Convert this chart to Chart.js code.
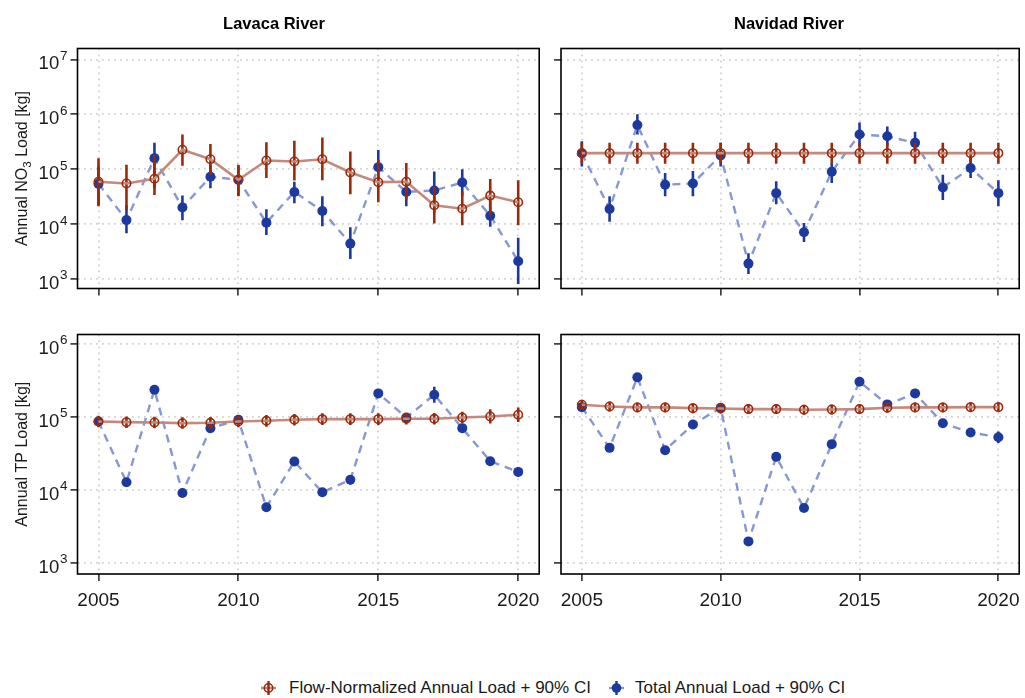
<!DOCTYPE html>
<html>
<head>
<meta charset="utf-8">
<script src="https://cdn.jsdelivr.net/npm/chart.js@4.4.1/dist/chart.umd.min.js"></script>
<style>
  body { margin: 0; background: #fff; width: 1025px; height: 698px; overflow: hidden; position: relative;
         font-family: "Liberation Sans", Arial, sans-serif; color: #1a1a1a; }
  canvas { position: absolute; }
  .leg { position: absolute; top: 678px; font-size: 17px; line-height: 20px; white-space: nowrap; }
  svg { position: absolute; }
</style>
</head>
<body>
<canvas id="lavacaNO3" width="545" height="300" style="left:0;top:0"></canvas>
<canvas id="navidadNO3" width="480" height="300" style="left:545px;top:0"></canvas>
<canvas id="lavacaTP" width="545" height="330" style="left:0;top:300px"></canvas>
<canvas id="navidadTP" width="480" height="330" style="left:545px;top:300px"></canvas>

<svg style="left:258px;top:679px" width="21" height="18">
  <line x1="3" y1="9" x2="18" y2="9" stroke="#c4897d" stroke-width="2.4"/>
  <line x1="10.5" y1="2" x2="10.5" y2="16" stroke="#9b2a0b" stroke-width="2.4"/>
  <circle cx="10.5" cy="9" r="4.2" fill="none" stroke="#9b2a0b" stroke-width="1.6"/>
</svg>
<span class="leg" style="left:289px">Flow-Normalized Annual Load + 90% CI</span>
<svg style="left:606px;top:679px" width="21" height="18">
  <line x1="3" y1="9" x2="18" y2="9" stroke="#8797d3" stroke-width="2.4"/>
  <line x1="10.5" y1="2" x2="10.5" y2="16" stroke="#1c3a9e" stroke-width="2.4"/>
  <circle cx="10.5" cy="9" r="4.8" fill="#1c3a9e"/>
</svg>
<span class="leg" style="left:635px">Total Annual Load + 90% CI</span>

<script>
const years = [2005, 2006, 2007, 2008, 2009, 2010, 2011, 2012, 2013, 2014, 2015, 2016, 2017, 2018, 2019, 2020];
const xTicks = [2005, 2010, 2015, 2020];
const no3Ticks = [1e3, 1e4, 1e5, 1e6, 1e7];
const tpTicks = [1e3, 1e4, 1e5, 1e6];

// Lavaca River, NO3 (kg)
const lavacaNO3Fn   = [59000, 55000, 67000, 226000, 152000, 64000, 144000, 138000, 152000, 87000, 58000, 59000, 22000, 19000, 33000, 25000];
const lavacaNO3FnLo = [21000, 18000, 34000, 115000, 79000, 32000, 69000, 62000, 63000, 35000, 25000, 28000, 10200, 9500, 14500, 9500];
const lavacaNO3FnHi = [158000, 120000, 182000, 427000, 288000, 120000, 309000, 331000, 380000, 209000, 148000, 129000, 48000, 39000, 66000, 63000];
const lavacaNO3Tot   = [54000, 11800, 159000, 20000, 73000, 64000, 10600, 38500, 17300, 4400, 109000, 38500, 41000, 57000, 14200, 2100];
const lavacaNO3TotLo = [22000, 6800, 45000, 11700, 45000, 33000, 6300, 24000, 9100, 2300, 55000, 21000, 16000, 32000, 8900, 810];
const lavacaNO3TotHi = [112000, 22000, 302000, 33000, 120000, 115000, 18600, 59000, 32000, 8700, 224000, 59000, 91000, 100000, 26000, 5600];

// Navidad River, NO3 (kg)
const navidadNO3Fn   = [196000, 196000, 196000, 196000, 196000, 196000, 196000, 196000, 196000, 196000, 196000, 196000, 196000, 196000, 196000, 196000];
const navidadNO3FnLo = [126000, 126000, 126000, 126000, 126000, 126000, 126000, 126000, 126000, 126000, 126000, 126000, 126000, 126000, 126000, 126000];
const navidadNO3FnHi = [302000, 302000, 302000, 302000, 302000, 302000, 302000, 302000, 302000, 302000, 302000, 302000, 302000, 302000, 302000, 302000];
const navidadNO3Tot   = [195000, 18800, 640000, 52000, 55000, 178000, 1900, 36600, 7100, 90000, 430000, 398000, 302000, 46500, 105000, 36600];
const navidadNO3TotLo = [112000, 11000, 427000, 32000, 32000, 112000, 1230, 23000, 4700, 56000, 263000, 263000, 186000, 27500, 69000, 21000];
const navidadNO3TotHi = [324000, 32000, 1000000, 85000, 93000, 302000, 2950, 60000, 10500, 129000, 708000, 603000, 479000, 79000, 162000, 63000];

// Lavaca River, TP (kg)
const lavacaTPFn   = [86500, 84700, 83900, 82000, 83000, 86500, 88300, 91200, 93100, 93100, 93100, 94200, 94200, 98200, 101400, 106900];
const lavacaTPFnLo = [72000, 70500, 70000, 68500, 69000, 72000, 73500, 76000, 77500, 77500, 77500, 78500, 78500, 81500, 81000, 85000];
const lavacaTPFnHi = [104000, 101500, 100500, 98500, 99500, 104000, 106000, 109500, 112000, 112000, 112000, 113000, 113000, 118000, 127000, 134500];
const lavacaTPTot   = [86500, 12700, 235500, 9060, 70100, 91200, 5750, 24400, 9250, 13700, 209900, 98200, 201400, 70100, 24700, 17600];
const lavacaTPTotLo = [77000, 11300, 210000, 8100, 62500, 81500, 5150, 21800, 8250, 11800, 187000, 87500, 156000, 60000, 22000, 15200];
const lavacaTPTotHi = [97000, 14200, 264000, 10100, 78500, 102000, 6450, 27300, 10400, 15900, 235000, 110000, 260000, 80000, 27700, 20300];

// Navidad River, TP (kg)
const navidadTPFn   = [146600, 139000, 134900, 134900, 131800, 130600, 127900, 127900, 125300, 126500, 127900, 133400, 134900, 134900, 136100, 136100];
const navidadTPFnLo = [125000, 119000, 115500, 115500, 112500, 111500, 109500, 109500, 107000, 108000, 109500, 114000, 115500, 115500, 116500, 116500];
const navidadTPFnHi = [171500, 162500, 158000, 158000, 154000, 153000, 149500, 149500, 146500, 148000, 149500, 156000, 158000, 158000, 159000, 159000];
const navidadTPTot   = [136100, 37600, 348300, 34900, 78700, 133400, 1960, 28300, 5620, 42300, 303400, 148300, 209900, 82000, 61100, 52700];
const navidadTPTotLo = [123500, 34200, 316500, 31700, 71500, 121000, 1780, 25700, 5100, 38400, 276000, 134500, 190500, 74500, 55500, 44000];
const navidadTPTotHi = [150000, 41400, 383000, 38400, 86500, 147000, 2160, 31100, 6200, 46500, 334000, 163000, 231000, 90000, 67000, 63000];

const FN_LINE = '#c4897d', FN_DARK = '#9b2a0b';
const TOT_LINE = '#8797d3', TOT_DARK = '#1c3a9e';
const FONT = '"Liberation Sans", Arial, sans-serif';

// vertical 90% CI bars, drawn under each dataset's own points
const errorBars = {
  id: 'errorBars',
  beforeDatasetDraw(chart, args) {
    const ds = chart.data.datasets[args.index];
    if (!ds.lower) return;
    const yScale = chart.scales.y;
    const ctx = chart.ctx;
    const a = chart.chartArea;
    ctx.save();
    ctx.beginPath();
    ctx.rect(a.left, a.top, a.right - a.left, a.bottom - a.top);
    ctx.clip();
    ctx.strokeStyle = ds.barColor;
    ctx.lineWidth = 2.6;
    args.meta.data.forEach((pt, i) => {
      ctx.beginPath();
      ctx.moveTo(pt.x, yScale.getPixelForValue(ds.lower[i]));
      ctx.lineTo(pt.x, yScale.getPixelForValue(ds.upper[i]));
      ctx.stroke();
    });
    ctx.restore();
  }
};

// panel frame, facet title, 10^n labels and y title
const panelDeco = {
  id: 'panelDeco',
  afterDraw(chart, args, opts) {
    const ctx = chart.ctx, a = chart.chartArea;
    ctx.save();
    ctx.strokeStyle = '#000';
    ctx.lineWidth = 1.6;
    ctx.strokeRect(a.left, a.top, a.right - a.left, a.bottom - a.top);
    ctx.fillStyle = '#000';
    if (opts.title) {
      ctx.font = 'bold 16.5px ' + FONT;
      ctx.textAlign = 'center';
      ctx.fillText(opts.title, opts.titleX, 29);
    }
    if (opts.yLabels) {
      ctx.fillStyle = '#1a1a1a';
      const yScale = chart.scales.y;
      opts.yLabels.forEach(v => {
        const y = yScale.getPixelForValue(v);
        const e = String(Math.round(Math.log10(v)));
        ctx.font = '13.5px ' + FONT;
        const ew = ctx.measureText(e).width;
        ctx.textAlign = 'right';
        ctx.fillText(e, 67.5, y + 0.5);
        ctx.font = '18.5px ' + FONT;
        ctx.fillText('10', 67.5 - ew - 0.8, y + 10);
      });
    }
    if (opts.yTitle) {
      const parts = opts.yTitle;
      let total = 0;
      parts.forEach(p => {
        ctx.font = (p.sub ? '11.5px ' : '16px ') + FONT;
        p.w = ctx.measureText(p.t).width;
        total += p.w;
      });
      ctx.translate(26.5, (a.top + a.bottom) / 2);
      ctx.rotate(-Math.PI / 2);
      ctx.textAlign = 'left';
      let x = -total / 2;
      parts.forEach(p => {
        ctx.font = (p.sub ? '11.5px ' : '16px ') + FONT;
        ctx.fillText(p.t, x, p.sub ? 4 : 0);
        x += p.w;
      });
    }
    ctx.restore();
  }
};

function makeChart(id, opt) {
  const dash = [1.8, 4.2];
  return new Chart(document.getElementById(id), {
    type: 'line',
    data: {
      datasets: [
        {
          label: 'Flow-Normalized Annual Load + 90% CI',
          data: years.map((yr, i) => ({ x: yr, y: opt.fn[i] })),
          lower: opt.fnLo, upper: opt.fnHi, barColor: FN_DARK,
          borderColor: FN_LINE, borderWidth: 2.6,
          pointRadius: 4.2, pointBorderWidth: 1.6, pointBorderColor: FN_DARK,
          pointBackgroundColor: 'rgba(0,0,0,0)'
        },
        {
          label: 'Total Annual Load + 90% CI',
          data: years.map((yr, i) => ({ x: yr, y: opt.tot[i] })),
          lower: opt.totLo, upper: opt.totHi, barColor: TOT_DARK,
          borderColor: TOT_LINE, borderWidth: 2.4, borderDash: [8, 6],
          pointRadius: 5, pointBorderWidth: 0, pointBackgroundColor: TOT_DARK
        }
      ]
    },
    options: {
      responsive: false,
      animation: false,
      layout: { padding: { top: opt.padTop, right: opt.padRight, left: 0, bottom: 0 } },
      plugins: {
        legend: { display: false },
        tooltip: { enabled: false },
        panelDeco: { title: opt.title, titleX: opt.titleX, yLabels: opt.yLabels, yTitle: opt.yTitle }
      },
      scales: {
        x: {
          type: 'linear', min: 2004.25, max: 2020.75,
          afterBuildTicks: s => { s.ticks = xTicks.map(v => ({ value: v })); },
          afterFit: s => { s.height = opt.xHeight; s.paddingLeft = 0; s.paddingRight = 0; },
          grid: { color: '#d2d2d2', lineWidth: 1.8, borderDash: dash, tickLength: 7,
                  tickColor: '#222', tickWidth: 1.5, tickBorderDash: [] },
          border: { display: false, dash: dash },
          ticks: { display: opt.showX, color: '#1a1a1a', font: { family: FONT, size: 19 },
                   padding: 8, maxRotation: 0, autoSkip: false, callback: v => String(v) }
        },
        y: {
          type: 'logarithmic', min: opt.yMin, max: opt.yMax,
          afterBuildTicks: s => { s.ticks = opt.ticks.map(v => ({ value: v })); },
          afterFit: s => { s.width = opt.yWidth; s.paddingTop = 0; s.paddingBottom = 0; },
          grid: { color: '#d2d2d2', lineWidth: 1.8, borderDash: dash, tickLength: 7,
                  tickColor: '#222', tickWidth: 1.5, tickBorderDash: [] },
          border: { display: false, dash: dash },
          ticks: { display: false }
        }
      }
    },
    plugins: [errorBars, panelDeco]
  });
}

const no3Range = { yMin: Math.pow(10, 2.825), yMax: Math.pow(10, 7.2), ticks: no3Ticks };
const tpRange = { yMin: Math.pow(10, 2.845), yMax: Math.pow(10, 6.13), ticks: tpTicks };

makeChart('lavacaNO3', Object.assign({
  fn: lavacaNO3Fn, fnLo: lavacaNO3FnLo, fnHi: lavacaNO3FnHi,
  tot: lavacaNO3Tot, totLo: lavacaNO3TotLo, totHi: lavacaNO3TotHi,
  padTop: 48.5, padRight: 5, yWidth: 77.5, xHeight: 11.5, showX: false,
  title: 'Lavaca River', titleX: 274, yLabels: no3Ticks,
  yTitle: [{ t: 'Annual NO' }, { t: '3', sub: true }, { t: ' Load [kg]' }]
}, no3Range));

makeChart('navidadNO3', Object.assign({
  fn: navidadNO3Fn, fnLo: navidadNO3FnLo, fnHi: navidadNO3FnHi,
  tot: navidadNO3Tot, totLo: navidadNO3TotLo, totHi: navidadNO3TotHi,
  padTop: 48.5, padRight: 4, yWidth: 16, xHeight: 11.5, showX: false,
  title: 'Navidad River', titleX: 244
}, no3Range));

makeChart('lavacaTP', Object.assign({
  fn: lavacaTPFn, fnLo: lavacaTPFnLo, fnHi: lavacaTPFnHi,
  tot: lavacaTPTot, totLo: lavacaTPTotLo, totHi: lavacaTPTotHi,
  padTop: 34.5, padRight: 5, yWidth: 77.5, xHeight: 56, showX: true,
  yLabels: tpTicks, yTitle: [{ t: 'Annual TP Load [kg]' }]
}, tpRange));

makeChart('navidadTP', Object.assign({
  fn: navidadTPFn, fnLo: navidadTPFnLo, fnHi: navidadTPFnHi,
  tot: navidadTPTot, totLo: navidadTPTotLo, totHi: navidadTPTotHi,
  padTop: 34.5, padRight: 4, yWidth: 16, xHeight: 56, showX: true
}, tpRange));
</script>
</body>
</html>
